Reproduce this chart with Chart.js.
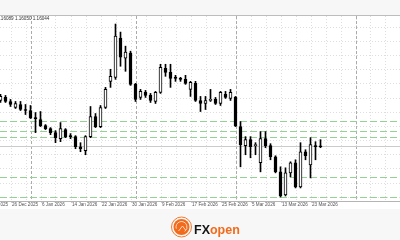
<!DOCTYPE html>
<html>
<head>
<meta charset="utf-8">
<script src="https://cdn.jsdelivr.net/npm/chart.js@4.4.1/dist/chart.umd.min.js"></script>
<style>
html,body{margin:0;padding:0;background:#fff;overflow:hidden;}
canvas{display:block;}
</style>
</head>
<body>
<canvas id="c" width="400" height="240"></canvas>
<script>
// ---- data (EURUSD daily) ----
const dates = ['24 Dec 2025','25 Dec 2025','26 Dec 2025','29 Dec 2025','30 Dec 2025','31 Dec 2025',
 '2 Jan 2026','5 Jan 2026','6 Jan 2026','7 Jan 2026','8 Jan 2026','9 Jan 2026','12 Jan 2026','13 Jan 2026',
 '14 Jan 2026','15 Jan 2026','16 Jan 2026','19 Jan 2026','20 Jan 2026','21 Jan 2026','22 Jan 2026','23 Jan 2026',
 '26 Jan 2026','27 Jan 2026','28 Jan 2026','29 Jan 2026','30 Jan 2026','2 Feb 2026','3 Feb 2026','4 Feb 2026',
 '5 Feb 2026','6 Feb 2026','9 Feb 2026','10 Feb 2026','11 Feb 2026','12 Feb 2026','13 Feb 2026','16 Feb 2026',
 '17 Feb 2026','18 Feb 2026','19 Feb 2026','20 Feb 2026','23 Feb 2026','24 Feb 2026','25 Feb 2026','26 Feb 2026',
 '27 Feb 2026','2 Mar 2026','3 Mar 2026','4 Mar 2026','5 Mar 2026','6 Mar 2026','9 Mar 2026','10 Mar 2026',
 '11 Mar 2026','12 Mar 2026','13 Mar 2026','16 Mar 2026','17 Mar 2026','18 Mar 2026','19 Mar 2026','20 Mar 2026',
 '23 Mar 2026','24 Mar 2026','25 Mar 2026'];
const open  = [1.17175,1.17250,1.17150,1.17000,1.17075,1.16950,1.16925,1.16750,1.16700,1.16550,1.16475,1.16375,1.16225,1.16450,
 1.16300,1.16275,1.16025,1.15925,1.16275,1.16775,1.16525,1.17000,1.17650,1.17750,1.18725,1.18225,1.18350,1.17575,1.17250,1.17375,
 1.17300,1.17150,1.17375,1.17975,1.17875,1.17750,1.17725,1.17700,1.17450,1.17600,1.17175,1.17100,1.17175,1.17200,1.17100,1.17325,
 1.17225,1.17250,1.16525,1.16050,1.16200,1.16050,1.15625,1.16225,1.16050,1.15775,1.15400,1.14825,1.15375,1.15625,1.15025,1.15900,
 1.15575,1.16050,1.16030];
const high  = [1.17325,1.17300,1.17200,1.17150,1.17150,1.17075,1.17050,1.16875,1.16900,1.16575,1.16500,1.16425,1.16625,1.16475,
 1.16350,1.16300,1.16125,1.16300,1.17025,1.16850,1.17050,1.17500,1.17950,1.19075,1.18875,1.18525,1.18400,1.17600,1.17450,1.17425,
 1.17350,1.17400,1.18075,1.18075,1.18075,1.17800,1.17750,1.17800,1.17650,1.17650,1.17275,1.17275,1.17450,1.17250,1.17400,1.17400,
 1.17450,1.17275,1.16650,1.16275,1.16275,1.16125,1.16400,1.16400,1.16100,1.15800,1.15525,1.15500,1.15650,1.15700,1.16125,1.15950,
 1.16250,1.16150,1.16200];
const low   = [1.17125,1.17125,1.17025,1.16975,1.16925,1.16825,1.16725,1.16375,1.16525,1.16450,1.16325,1.16125,1.16150,1.16250,
 1.16225,1.15975,1.15900,1.15825,1.16250,1.16500,1.16500,1.16975,1.17500,1.17700,1.18025,1.17900,1.17550,1.17150,1.17200,1.17250,
 1.17125,1.17100,1.17350,1.17775,1.17500,1.17650,1.17650,1.17575,1.17275,1.17150,1.16900,1.16950,1.17150,1.17075,1.17050,1.17225,
 1.17175,1.16525,1.15525,1.15825,1.15750,1.15825,1.15400,1.16000,1.15700,1.15375,1.14775,1.14800,1.15275,1.15000,1.15000,1.15700,
 1.15250,1.15700,1.16000];
const close = [1.17275,1.17150,1.17075,1.17100,1.16950,1.16925,1.16750,1.16725,1.16550,1.16475,1.16375,1.16250,1.16475,1.16275,
 1.16275,1.16025,1.15975,1.16275,1.16775,1.16525,1.17000,1.17450,1.17775,1.18775,1.18250,1.18375,1.17575,1.17200,1.17400,1.17300,
 1.17175,1.17375,1.18000,1.17875,1.17725,1.17725,1.17700,1.17600,1.17625,1.17175,1.17100,1.17175,1.17200,1.17100,1.17375,1.17250,
 1.17375,1.16550,1.16075,1.16200,1.16025,1.16075,1.16225,1.16050,1.15775,1.15400,1.14800,1.15375,1.15625,1.15025,1.15900,1.15800,
 1.16075,1.16025,1.16025];

const tickIndex  = [-4, 2, 8, 14, 20, 26, 32, 38, 44, 50, 56, 62];
const tickLabels = ['18 Dec 2025','26 Dec 2025','6 Jan 2026','14 Jan 2026','22 Jan 2026','30 Jan 2026',
 '9 Feb 2026','17 Feb 2026','25 Feb 2026','5 Mar 2026','13 Mar 2026','23 Mar 2026'];
const levels = [1.16675, 1.16425, 1.16267, 1.15267, 1.14783];   // green dashed levels
const bidPrice = 1.16033;
const periodSeparators = [6, 27, 47, 71];                         // month starts
const priceGrid = [1.19010,1.18658,1.18305,1.17953,1.17600,1.17248,1.16895,1.16543,1.16190,1.15838,1.15485,1.15133,1.14780];
const headerText = '1.16089 1.16050 1.16044';

// ---- build datasets ----
const wickData = dates.map((d, i) => ({x: i, y: [low[i], high[i]]}));
const bodyData = dates.map((d, i) => ({x: i, y: [open[i], close[i]]}));
const bodyFill = dates.map((d, i) => close[i] >= open[i] ? '#ffffff' : '#000000');

const deco = {
  id: 'deco',
  beforeDraw(chart) {
    const c = chart.ctx;
    c.save();
    c.fillStyle = '#ffffff'; c.fillRect(0, 0, 400, 240);
    c.fillStyle = '#f7f7f7'; c.fillRect(0, 0, 400, 15); c.fillRect(0, 209, 400, 31);
    c.fillStyle = '#bdbdbd'; c.fillRect(0, 15, 400, 1);
    c.restore();
  },
  beforeDatasetsDraw(chart) {
    const c = chart.ctx, xs = chart.scales.x, ys = chart.scales.y, a = chart.chartArea;
    c.save();
    c.beginPath(); c.rect(a.left, a.top, a.right - a.left, a.bottom - a.top); c.clip();
    c.lineWidth = 1;
    // dotted grid
    c.strokeStyle = '#dedede'; c.setLineDash([1, 2]);
    for (let i = -1; i <= 80; i += 3) {
      const x = Math.round(xs.getPixelForValue(i)) + 0.5;
      c.beginPath(); c.moveTo(x, a.top); c.lineTo(x, a.bottom); c.stroke();
    }
    priceGrid.forEach(p => {
      const y = Math.round(ys.getPixelForValue(p)) + 0.5;
      c.beginPath(); c.moveTo(a.left, y); c.lineTo(a.right, y); c.stroke();
    });
    // period separators
    c.strokeStyle = '#ababab'; c.setLineDash([3, 2]);
    periodSeparators.forEach(i => {
      const x = Math.round(xs.getPixelForValue(i)) + 0.5;
      c.beginPath(); c.moveTo(x, a.top); c.lineTo(x, a.bottom); c.stroke();
    });
    // bid line
    c.setLineDash([]); c.strokeStyle = '#cbcbcb';
    let y = Math.round(ys.getPixelForValue(bidPrice)) + 0.5;
    c.beginPath(); c.moveTo(a.left, y); c.lineTo(a.right, y); c.stroke();
    // levels
    c.strokeStyle = '#94d294'; c.setLineDash([7, 3]);
    levels.forEach(p => {
      const yy = Math.round(ys.getPixelForValue(p)) + 0.5;
      c.beginPath(); c.moveTo(a.left, yy); c.lineTo(a.right, yy); c.stroke();
    });
    c.restore();
  },
  afterDraw(chart) {
    const c = chart.ctx, xs = chart.scales.x, a = chart.chartArea;
    c.save();
    // bottom border
    c.fillStyle = '#b4b4b4'; c.fillRect(0, a.bottom, 400, 1);
    // header text
    c.fillStyle = '#333'; c.font = '4.6px "Liberation Sans", Arial, sans-serif';
    c.textBaseline = 'middle'; c.textAlign = 'left';
    c.fillText(headerText, -3, 19);
    // x labels
    c.font = '4.6px "Liberation Sans", Arial, sans-serif';
    tickIndex.forEach((i, k) => {
      const x = Math.round(xs.getPixelForValue(i));
      c.fillStyle = '#cfcfcf'; c.fillRect(x, a.bottom + 1, 1, 1);
      c.fillStyle = '#555';
      c.fillText(tickLabels[k], x + 1, a.bottom + 4);
    });
    // logo
    const cx = 181.5, cy = 227;
    c.strokeStyle = '#f47b30'; c.lineWidth = 1;
    c.beginPath(); c.arc(cx, cy, 10, 0, Math.PI * 2); c.stroke();
    c.fillStyle = '#f26a1b';
    c.beginPath(); c.arc(cx, cy, 8, 0, Math.PI * 2); c.fill();
    c.strokeStyle = '#ffd9c0'; c.lineWidth = 1;
    c.beginPath(); c.arc(cx, cy, 5.5, Math.PI * 0.9, Math.PI * 2.3); c.stroke();
    c.beginPath(); c.moveTo(cx - 3, cy + 4); c.lineTo(cx + 1, cy - 1); c.lineTo(cx + 4, cy + 3); c.stroke();
    c.font = 'bold 12.5px "Liberation Sans", Arial, sans-serif';
    c.textBaseline = 'alphabetic';
    c.fillStyle = '#151515'; c.fillText('FX', 194, 234);
    const w = c.measureText('FX').width;
    c.fillStyle = '#f26a1b'; c.fillText('open', 194 + w, 234);
    c.restore();
  }
};

new Chart(document.getElementById('c'), {
  type: 'bar',
  data: {
    datasets: [
      { label: 'wick', data: wickData, backgroundColor: '#000', borderWidth: 0,
        barThickness: 1, grouped: false, order: 2 },
      { label: 'body', data: bodyData, backgroundColor: bodyFill, borderColor: '#000',
        borderWidth: 1, borderSkipped: false, barThickness: 3, minBarLength: 1, grouped: false, order: 1 }
    ]
  },
  options: {
    responsive: false, animation: false, devicePixelRatio: 1,
    layout: { padding: { top: 16, bottom: 39, left: 0, right: 0 } },
    plugins: { legend: { display: false }, tooltip: { enabled: false } },
    scales: {
      x: { type: 'linear', min: -0.1, max: 79.9, display: false, offset: false },
      y: { type: 'linear', min: 1.14675, max: 1.19275, display: false }
    }
  },
  plugins: [deco]
});
</script>
</body>
</html>
